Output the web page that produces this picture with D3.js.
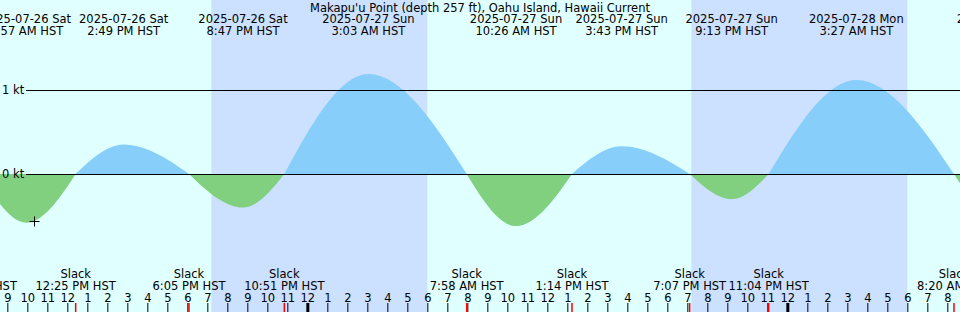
<!DOCTYPE html>
<html>
<head>
<meta charset="utf-8">
<script src="https://cdn.jsdelivr.net/npm/d3@7"></script>
<style>
  body { margin: 0; background: #e0ffff; }
  svg { display: block; font-family: "DejaVu Sans", sans-serif; font-size: 11.5px; }
</style>
</head>
<body>
<div id="chart-area"></div>
<script>
// current events (HST), speeds in knots; 0 = slack
var eventTimes = ["2025-07-26 02:40", "2025-07-26 07:38", "2025-07-26 09:57", "2025-07-26 12:25",
  "2025-07-26 14:49", "2025-07-26 18:05", "2025-07-26 20:47", "2025-07-26 22:51",
  "2025-07-27 03:03", "2025-07-27 07:58", "2025-07-27 10:26", "2025-07-27 13:14",
  "2025-07-27 15:43", "2025-07-27 19:07", "2025-07-27 21:13", "2025-07-27 23:04",
  "2025-07-28 03:27", "2025-07-28 08:20", "2025-07-28 10:50"]
var eventSpeeds = [1.2, 0, -0.58, 0, 0.35, 0, -0.40, 0, 1.19, 0, -0.62, 0, 0.33, 0, -0.30, 0, 1.12, 0, -0.6]

var nightStarts = ["2025-07-26 19:12", "2025-07-27 19:12"]
var nightEnds = ["2025-07-27 06:00", "2025-07-28 06:00"]

var speedTicks = [0, 1]
var nowTime = "2025-07-26 10:20", nowSpeed = -0.56
var title = "Makapu'u Point (depth 257 ft), Oahu Island, Hawaii Current"

var width = 960, height = 312

var parse = d3.utcParse("%Y-%m-%d %H:%M")
var data = eventTimes.map(function(t, i) {
  return { time: parse(t), speed: eventSpeeds[i] }
})

var svg = d3.select("#chart-area").append("svg")
    .attr("width", width)
    .attr("height", height)

var x = d3.scaleUtc()
    .domain([parse("2025-07-26 08:38"), parse("2025-07-28 08:38")])
    .range([0, width])

var y = d3.scaleLinear()
    .domain([0, 1])
    .range([174, 90])

// quarter-sine segments between slack and max current
function curveSine(zero) {
  return function(context) {
    return {
      areaStart: function() { this._line = 0 },
      areaEnd: function() { this._line = NaN },
      lineStart: function() { this._x = []; this._y = [] },
      point: function(px, py) { this._x.push(+px); this._y.push(+py) },
      lineEnd: function() {
        var xs = this._x, ys = this._y, n = xs.length
        if (n) {
          this._line ? context.lineTo(xs[0], ys[0]) : context.moveTo(xs[0], ys[0])
          for (var i = 1; i < n; i++) {
            var xa = xs[i - 1], ya = ys[i - 1], xb = xs[i], yb = ys[i], h = xb - xa
            var k = (yb - ya) * Math.PI / (2 * h)
            var sa = Math.abs(ya - zero) < 1e-6 ? k : 0
            var sb = Math.abs(yb - zero) < 1e-6 ? k : 0
            context.bezierCurveTo(xa + h / 3, ya + sa * h / 3, xb - h / 3, yb - sb * h / 3, xb, yb)
          }
        }
        if (this._line || (this._line !== 0 && n === 1)) context.closePath()
        this._line = 1 - this._line
      }
    }
  }
}

svg.append("rect")
  .attr("width", width).attr("height", height)
  .attr("fill", "#e0ffff")

// night
svg.selectAll(".night")
  .data(nightStarts)
  .enter().append("rect")
    .attr("class", "night")
    .attr("x", function(d) { return x(parse(d)) })
    .attr("y", 0)
    .attr("width", function(d, i) { return x(parse(nightEnds[i])) - x(parse(d)) })
    .attr("height", height)
    .attr("fill", "#cce0ff")

var defs = svg.append("defs")
defs.append("clipPath").attr("id", "above")
  .append("rect").attr("x", 0).attr("y", 0).attr("width", width).attr("height", y(0))
defs.append("clipPath").attr("id", "below")
  .append("rect").attr("x", 0).attr("y", y(0)).attr("width", width).attr("height", height - y(0))

var area = d3.area()
    .x(function(d) { return x(d.time) })
    .y0(y(0))
    .y1(function(d) { return y(d.speed) })
    .curve(curveSine(y(0)))

svg.append("path").datum(data)
  .attr("d", area)
  .attr("fill", "#87cefa")
  .attr("clip-path", "url(#above)")

svg.append("path").datum(data)
  .attr("d", area)
  .attr("fill", "#80d080")
  .attr("clip-path", "url(#below)")

// speed gridlines
speedTicks.forEach(function(s) {
  svg.append("line")
    .attr("x1", 26).attr("x2", width)
    .attr("y1", y(s) + 0.5).attr("y2", y(s) + 0.5)
    .attr("stroke", "black")
  svg.append("text")
    .attr("x", 2).attr("y", y(s) + 4)
    .text(s + " kt")
})

// now marker
var nx = Math.round(x(parse(nowTime))) + 0.5, ny = Math.round(y(nowSpeed)) + 0.5
svg.append("path")
  .attr("d", "M" + (nx - 5) + "," + ny + "H" + (nx + 5) + "M" + nx + "," + (ny - 5) + "V" + (ny + 5))
  .attr("stroke", "black")

// title
svg.append("text")
  .attr("x", width / 2).attr("y", 12)
  .attr("text-anchor", "middle")
  .text(title)

var dateFmt = d3.utcFormat("%Y-%m-%d %a"),
    timeFmt = d3.utcFormat("%-I:%M %p HST")

var maxima = data.filter(function(d) { return d.speed != 0 })
var slacks = data.filter(function(d) { return d.speed == 0 })

var maxLabels = svg.selectAll(".maxlabel").data(maxima).enter().append("g")
    .attr("class", "maxlabel")
    .attr("text-anchor", "middle")
    .attr("transform", function(d) { return "translate(" + x(d.time) + ",0)" })
maxLabels.append("text").attr("y", 23).text(function(d) { return dateFmt(d.time) })
maxLabels.append("text").attr("y", 35).text(function(d) { return timeFmt(d.time) })

var slackLabels = svg.selectAll(".slacklabel").data(slacks).enter().append("g")
    .attr("class", "slacklabel")
    .attr("text-anchor", "middle")
    .attr("transform", function(d) { return "translate(" + x(d.time) + ",0)" })
slackLabels.append("text").attr("y", 278).text("Slack")
slackLabels.append("text").attr("y", 290).text(function(d) { return timeFmt(d.time) })

// hour axis
var xAxisCall = d3.axisTop(x)
    .ticks(d3.utcHour.every(1))
    .tickSize(9)
    .tickPadding(1)
    .tickFormat(function(d) { return d3.utcFormat("%-I")(d) })

var axis = svg.append("g")
    .attr("class", "x axis")
    .attr("transform", "translate(0," + height + ")")
    .call(xAxisCall)
axis.select(".domain").remove()
axis.selectAll("text")
    .attr("fill", "black")
    .attr("font-size", "11.5px")
    .attr("font-family", "DejaVu Sans, sans-serif")
axis.selectAll(".tick line")
    .attr("stroke", "black")
    .attr("stroke-width", function(d) { return d.getUTCHours() == 0 ? 3 : 1 })

// slack ticks
svg.selectAll(".slacktick").data(slacks).enter().append("line")
    .attr("class", "slacktick")
    .attr("x1", function(d) { return x(d.time) })
    .attr("x2", function(d) { return x(d.time) })
    .attr("y1", height - 9).attr("y2", height)
    .attr("stroke", "red")
    .attr("stroke-width", 1.5)
</script>
</body>
</html>
